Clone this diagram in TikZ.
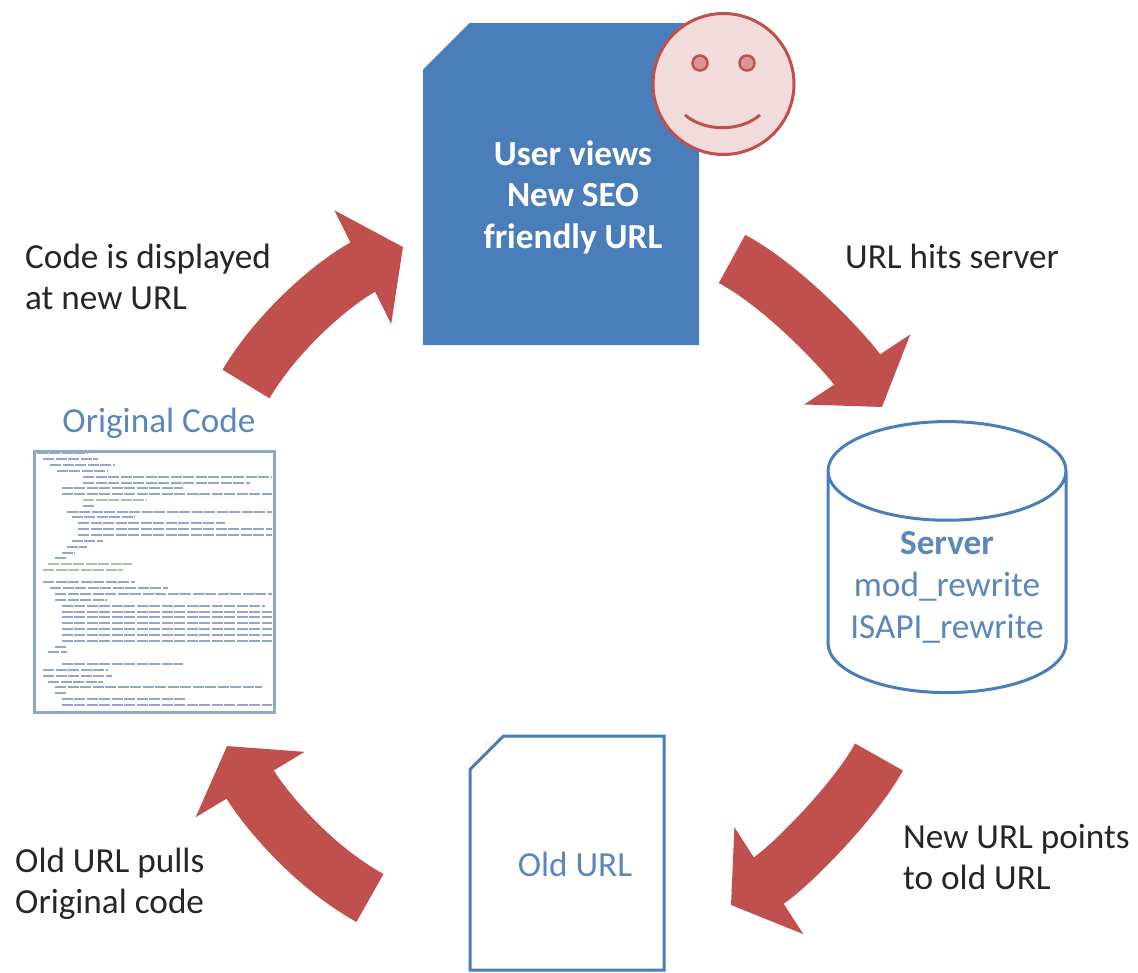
\documentclass[tikz,border=0pt]{standalone}
\usepackage{fontspec}
\setmainfont{Carlito}
\usetikzlibrary{arrows.meta,shapes.geometric,shapes.misc}
\definecolor{docblue}{HTML}{4A7EBB}
\definecolor{txtblue}{HTML}{5B87BD}
\definecolor{arrred}{HTML}{C0504D}
\definecolor{facepink}{HTML}{F2DCDB}
\definecolor{eyepink}{HTML}{D99694}
\definecolor{framegrey}{HTML}{8FA9C8}
\definecolor{codeblue}{HTML}{93A7C6}
\definecolor{codegreen}{HTML}{A5C4A0}
\begin{document}
\begin{tikzpicture}[x=1pt,y=-1pt]
\tikzstyle{arr} = [line width=55,draw=arrred,-{Triangle[length=45,width=125]}];
\tikzstyle{txt} = [font=\fontsize{35.2}{40.5}\selectfont,inner sep=0,align=left,text=black!85];
\tikzstyle{bluetxt} = [txt,align=center,text=txtblue];
\tikzstyle{newdoc} = [chamfered rectangle,chamfered rectangle corners=north west,chamfered rectangle xsep=23.5pt,chamfered rectangle ysep=23pt,fill=docblue,text width=100,text height=100,minimum width=276,minimum height=322,inner sep=1];
\tikzstyle{olddoc} = [chamfered rectangle,chamfered rectangle corners=north west,chamfered rectangle xsep=17.5pt,chamfered rectangle ysep=16pt,draw=docblue,line width=3,fill=white,text width=100,text height=100,minimum width=194,minimum height=234,inner sep=1];
\tikzstyle{eye} = [circle,draw=arrred,fill=eyepink,line width=2.5,minimum size=15,inner sep=0];
\tikzstyle{codeline} = [line width=2,dash pattern=on 11 off 1.5];
\useasboundingbox (0,0) rectangle (1138,972);

\node [newdoc] (newurl) at (561,184) {};
\node [circle,draw=arrred,fill=facepink,line width=3,minimum size=141,inner sep=0] (face) at (723.5,84) {};
\node [eye] (eyeL) at (700,63) {};
\node [eye] (eyeR) at (747,63) {};
\coordinate (smileL) at (685,115);
\coordinate (smileR) at (760,115);
\coordinate (smileA) at (705,132);
\coordinate (smileB) at (740,132);
\draw [arrred,line width=3] (smileL) .. controls (smileA) and (smileB) .. (smileR);
\node [txt,align=center,text=white,font=\fontsize{35.2}{41.5}\selectfont\bfseries] (newurltxt) at (573,197) {User views\\New SEO\\friendly URL};

\node [bluetxt,font=\fontsize{35.2}{42}\selectfont,cylinder,shape border rotate=90,aspect=0.5,draw=docblue,line width=3,minimum width=238,minimum height=271,inner sep=2] (server) at (947,587) {\textbf{Server}\\mod\_rewrite\\ISAPI\_rewrite};

\node [olddoc] (oldurl) at (567,853) {};
\node [bluetxt] (oldurltxt) at (575,864) {Old URL};

\node [bluetxt] (codetxt) at (159,423) {Original Code};
\node [rectangle,draw=framegrey,line width=3,minimum width=240,minimum height=261,inner sep=0] (code) at (154.5,582) {};
\begin{scope}[shift={(20,440)},x=1/3,y=-1/3]
\foreach \row/\a/\b/\c in {40/50/205/codeblue,58/70/235/codeblue,75/90/285/codeblue,92/110/265/codeblue,110/190/755/codeblue,128/190/690/codeblue,145/125/490/codeblue,163/125/755/codeblue,180/190/380/codegreen,197/190/225/codeblue,215/140/755/codeblue,232/155/345/codeblue,250/175/615/codeblue,268/175/755/codeblue,285/175/755/codeblue,302/155/250/codeblue,320/140/200/codeblue,338/125/165/codeblue,355/105/140/codeblue,373/85/335/codegreen,390/70/310/codegreen,425/70/345/codeblue,443/90/445/codeblue,462/105/755/codeblue,480/105/260/codeblue,497/125/735/codeblue,515/125/755/codeblue,532/125/755/codeblue,550/125/755/codeblue,567/125/755/codeblue,585/125/755/codeblue,602/125/755/codeblue,620/105/140/codeblue,637/85/140/codeblue,672/125/490/codeblue,690/70/265/codeblue,708/70/275/codeblue,725/85/250/codeblue,742/105/725/codeblue,760/105/140/codeblue,778/125/495/codeblue,795/125/755/codeblue}
  \draw [codeline,draw=\c] (\a,\row) -- (\b,\row);
\end{scope}

% arrows
\coordinate (a1) at (732,259);
\coordinate (a1x) at (785,287);
\coordinate (a1y) at (849,357);
\coordinate (a1e) at (882,407);
\coordinate (a2) at (879,757);
\coordinate (a2x) at (855,801);
\coordinate (a2y) at (790,867);
\coordinate (a2e) at (731,905);
\coordinate (a3) at (370,898);
\coordinate (a3x) at (309,864);
\coordinate (a3y) at (263,806);
\coordinate (a3e) at (227,746);
\coordinate (a4) at (246,384);
\coordinate (a4x) at (282,324);
\coordinate (a4y) at (341,278);
\coordinate (a4e) at (403,247);
\draw [arr] (a1) .. controls (a1x) and (a1y) .. (a1e);
\draw [arr] (a2) .. controls (a2x) and (a2y) .. (a2e);
\draw [arr] (a3) .. controls (a3x) and (a3y) .. (a3e);
\draw [arr] (a4) .. controls (a4x) and (a4y) .. (a4e);

\node [txt,anchor=west] (lblshow) at (25,277) {Code is displayed\\at new URL};
\node [txt,anchor=west] (lblhit) at (845,256) {URL hits server};
\node [txt,anchor=west] (lblpoint) at (903,857) {New URL points\\to old URL};
\node [txt,anchor=west] (lblpull) at (15,884) {Old URL pulls\\Original code};
\end{tikzpicture}
\end{document}
